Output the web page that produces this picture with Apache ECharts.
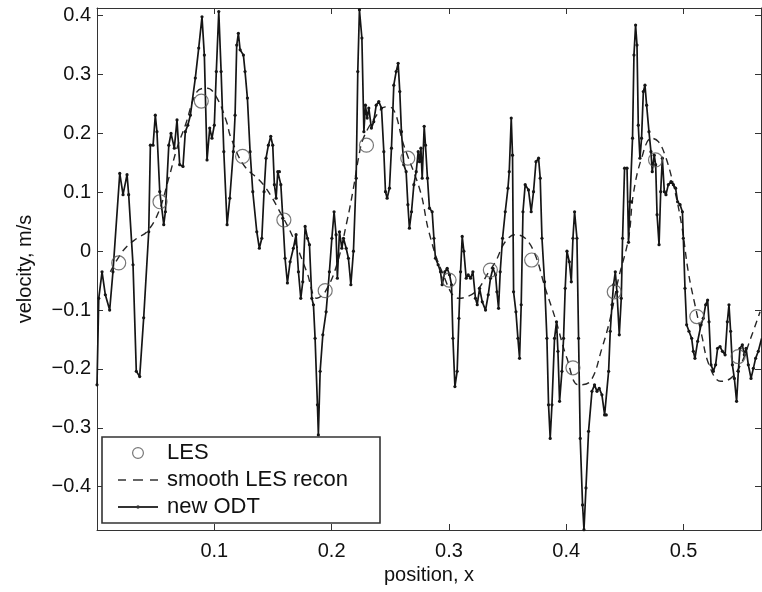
<!DOCTYPE html>
<html>
<head>
<meta charset="utf-8">
<script src="https://cdn.jsdelivr.net/npm/echarts@6/dist/echarts.min.js"></script>
<style>html,body{margin:0;padding:0;background:#fff}#c{width:762px;height:592px}</style>
</head>
<body>
<div id="c"></div>
<script>
// ---- data ----
const odtX = [0.0000,0.0015,0.0043,0.0071,0.0108,0.0136,0.0194,0.0222,0.0256,0.0270,0.0307,0.0335,0.0364,0.0398,0.0441,0.0455,0.0478,0.0497,0.0511,0.0535,0.0569,0.0583,0.0612,0.0631,0.0659,0.0682,0.0705,0.0733,0.0753,0.0774,0.0796,0.0838,0.0867,0.0895,0.0915,0.0938,0.0961,0.0980,0.1000,0.1017,0.1038,0.1058,0.1081,0.1109,0.1132,0.1162,0.1177,0.1191,0.1205,0.1220,0.1248,0.1262,0.1282,0.1305,0.1328,0.1362,0.1384,0.1405,0.1424,0.1441,0.1461,0.1481,0.1498,0.1512,0.1527,0.1541,0.1555,0.1567,0.1584,0.1603,0.1623,0.1646,0.1674,0.1697,0.1717,0.1737,0.1754,0.1774,0.1794,0.1811,0.1831,0.1845,0.1859,0.1879,0.1887,0.1902,0.1925,0.1953,0.1981,0.2002,0.2021,0.2038,0.2049,0.2067,0.2087,0.2101,0.2124,0.2143,0.2164,0.2186,0.2209,0.2223,0.2237,0.2258,0.2275,0.2288,0.2303,0.2317,0.2339,0.2359,0.2380,0.2402,0.2425,0.2445,0.2459,0.2473,0.2493,0.2510,0.2530,0.2550,0.2567,0.2581,0.2595,0.2615,0.2635,0.2650,0.2663,0.2681,0.2701,0.2721,0.2738,0.2749,0.2761,0.2772,0.2789,0.2800,0.2817,0.2834,0.2857,0.2872,0.2885,0.2908,0.2928,0.2942,0.2965,0.2985,0.3005,0.3022,0.3034,0.3051,0.3070,0.3085,0.3099,0.3113,0.3127,0.3147,0.3164,0.3184,0.3204,0.3226,0.3241,0.3261,0.3284,0.3312,0.3335,0.3354,0.3375,0.3397,0.3409,0.3423,0.3437,0.3457,0.3480,0.3503,0.3514,0.3531,0.3542,0.3551,0.3571,0.3588,0.3602,0.3616,0.3631,0.3650,0.3678,0.3701,0.3721,0.3742,0.3764,0.3778,0.3793,0.3815,0.3835,0.3849,0.3863,0.3878,0.3900,0.3917,0.3929,0.3943,0.3963,0.3977,0.3991,0.4006,0.4026,0.4043,0.4057,0.4071,0.4091,0.4105,0.4119,0.4139,0.4151,0.4168,0.4190,0.4219,0.4241,0.4262,0.4281,0.4304,0.4327,0.4341,0.4361,0.4375,0.4390,0.4403,0.4418,0.4432,0.4452,0.4469,0.4480,0.4497,0.4518,0.4531,0.4543,0.4557,0.4565,0.4577,0.4591,0.4603,0.4614,0.4628,0.4642,0.4657,0.4671,0.4685,0.4705,0.4722,0.4733,0.4750,0.4762,0.4774,0.4791,0.4805,0.4819,0.4836,0.4850,0.4870,0.4893,0.4913,0.4932,0.4949,0.4970,0.4990,0.4998,0.5012,0.5026,0.5046,0.5069,0.5083,0.5097,0.5120,0.5149,0.5168,0.5188,0.5205,0.5217,0.5234,0.5254,0.5273,0.5290,0.5311,0.5331,0.5354,0.5373,0.5387,0.5401,0.5416,0.5433,0.5452,0.5467,0.5481,0.5501,0.5518,0.5533,0.5552,0.5575,0.5595,0.5614,0.5637,0.5665];
const odtY = [-0.227,-0.080,-0.035,-0.074,-0.100,-0.035,0.132,0.096,0.130,0.096,-0.023,-0.204,-0.213,-0.113,0.033,0.180,0.180,0.231,0.203,0.101,0.045,0.067,0.180,0.200,0.175,0.223,0.147,0.144,0.203,0.214,0.231,0.294,0.345,0.398,0.333,0.155,0.209,0.192,0.214,0.305,0.407,0.305,0.169,0.045,0.090,0.169,0.231,0.350,0.370,0.342,0.333,0.305,0.260,0.169,0.101,0.033,0.005,0.022,0.101,0.158,0.180,0.195,0.180,0.113,0.090,0.135,0.135,0.113,0.056,-0.012,-0.054,-0.018,0.005,0.028,-0.035,-0.080,-0.052,0.042,0.022,0.011,-0.080,-0.091,-0.148,-0.261,-0.312,-0.204,-0.142,-0.103,-0.035,0.022,0.067,0.028,-0.046,0.033,0.005,0.022,0.005,-0.012,-0.057,0.000,0.124,0.305,0.410,0.362,0.203,0.248,0.226,0.243,0.209,0.220,0.248,0.254,0.243,0.169,0.101,0.090,0.107,0.175,0.282,0.305,0.319,0.271,0.203,0.147,0.135,0.079,0.039,0.067,0.113,0.135,0.169,0.152,0.175,0.124,0.212,0.180,0.124,0.073,0.067,0.022,-0.012,-0.023,-0.035,-0.057,-0.035,-0.029,-0.040,-0.057,-0.148,-0.230,-0.204,-0.114,-0.035,0.025,0.000,-0.046,-0.040,-0.046,-0.035,-0.080,-0.091,-0.063,-0.086,-0.100,-0.074,-0.046,-0.029,-0.040,-0.069,-0.097,-0.035,0.022,0.067,0.107,0.135,0.226,0.163,-0.069,-0.103,-0.148,-0.182,-0.091,0.067,0.113,0.104,0.067,0.101,0.152,0.158,0.124,0.022,-0.052,-0.148,-0.261,-0.318,-0.261,-0.148,-0.120,-0.170,-0.255,-0.204,-0.148,-0.063,0.000,-0.018,-0.052,0.022,0.067,0.022,-0.148,-0.318,-0.431,-0.473,-0.402,-0.306,-0.238,-0.227,-0.238,-0.233,-0.244,-0.278,-0.278,-0.204,-0.136,-0.091,-0.057,-0.035,-0.069,-0.142,-0.080,0.022,0.141,0.141,0.015,0.084,0.084,0.192,0.333,0.384,0.350,0.214,0.158,0.192,0.271,0.282,0.248,0.203,0.169,0.135,0.163,0.147,0.062,0.011,0.101,0.158,0.101,0.096,0.113,0.118,0.113,0.107,0.084,0.079,0.067,0.022,-0.063,-0.125,-0.136,-0.148,-0.170,-0.182,-0.153,-0.125,-0.114,-0.091,-0.083,-0.120,-0.193,-0.204,-0.193,-0.165,-0.162,-0.170,-0.176,-0.120,-0.091,-0.136,-0.193,-0.216,-0.255,-0.204,-0.165,-0.159,-0.176,-0.165,-0.193,-0.216,-0.199,-0.182,-0.170,-0.148];

const smoothX = [0.0114,0.0227,0.0341,0.0426,0.0526,0.0612,0.0682,0.0753,0.0853,0.0938,0.1023,0.1109,0.1134,0.1248,0.1418,0.1589,0.1674,0.1788,0.1874,0.1945,0.2044,0.2130,0.2186,0.2229,0.2271,0.2380,0.2460,0.2516,0.2615,0.2757,0.2829,0.2942,0.3085,0.3226,0.3340,0.3397,0.3480,0.3565,0.3650,0.3735,0.3821,0.3906,0.4006,0.4105,0.4205,0.4304,0.4375,0.4446,0.4531,0.4571,0.4642,0.4727,0.4785,0.4842,0.4913,0.4983,0.5040,0.5097,0.5154,0.5217,0.5316,0.5401,0.5486,0.5572,0.5652];
const smoothY = [-0.035,0.002,0.022,0.033,0.067,0.124,0.175,0.214,0.271,0.277,0.260,0.217,0.197,0.147,0.113,0.056,0.022,-0.035,-0.080,-0.069,-0.023,0.050,0.107,0.158,0.192,0.230,0.245,0.243,0.180,0.101,0.033,-0.035,-0.080,-0.069,-0.035,-0.018,0.016,0.028,0.022,-0.006,-0.063,-0.114,-0.182,-0.227,-0.221,-0.165,-0.114,-0.046,0.022,0.096,0.158,0.192,0.186,0.163,0.113,0.045,-0.035,-0.091,-0.142,-0.193,-0.221,-0.216,-0.193,-0.148,-0.103];

const lesX = [0.0185,0.0537,0.0889,0.1241,0.1593,0.1945,0.2297,0.2649,0.3001,0.3353,0.3705,0.4057,0.4409,0.4761,0.5113,0.5465];
const lesY = [-0.020,0.084,0.255,0.161,0.053,-0.067,0.180,0.158,-0.049,-0.032,-0.015,-0.198,-0.069,0.155,-0.111,-0.179];

const yTicks = [-0.4,-0.3,-0.2,-0.1,0,0.1,0.2,0.3,0.4];
const xTickStep = 0.1;
const xRange = [0, 0.566];
const yRange = [-0.4735, 0.413];

const seriesNames = ['LES', 'smooth LES recon', 'new ODT'];
const xName = 'position, x';
const yName = 'velocity, m/s';

// ---- chart ----
const FONT = '"Liberation Sans", Arial, Helvetica, sans-serif';
const zip = (a, b) => a.map((v, i) => [v, b[i]]);
const fmt = v => {
  if (Math.abs(v) < 1e-9) return '0';
  const s = Math.abs(v).toFixed(1);
  return v < 0 ? '\u2212' + s : s;
};
const AX = '#333';

const axisCommon = {
  axisLine: { show: true, onZero: false, lineStyle: { color: AX, width: 1 } },
  axisTick: { show: true, inside: true, length: 6, lineStyle: { color: AX, width: 1 } },
  splitLine: { show: false }
};

// legend icons (paths spanning 44x14)
const bound = 'M0,0 L0.001,0 L0,0.001 Z M44,14 L43.999,14 L44,13.999 Z ';
const iconCircle = 'path://' + bound + 'M26,7 A6,6 0 1 1 14,7 A6,6 0 1 1 26,7 Z M24.8,7 A4.8,4.8 0 1 0 15.2,7 A4.8,4.8 0 1 0 24.8,7 Z';
const iconDash = 'path://' + bound + 'M0,6.3 L8,6.3 L8,7.7 L0,7.7 Z M15,6.3 L25,6.3 L25,7.7 L15,7.7 Z M32,6.3 L40,6.3 L40,7.7 L32,7.7 Z';
const iconSolid = 'path://' + bound + 'M0,6.1 L40,6.1 L40,7.9 L0,7.9 Z M21.7,7 A1.7,1.7 0 1 1 18.3,7 A1.7,1.7 0 1 1 21.7,7 Z';

const chart = echarts.init(document.getElementById('c'));
chart.setOption({
  animation: false,
  backgroundColor: '#fff',
  textStyle: { fontFamily: FONT, color: '#111' },
  grid: { left: 97, top: 8, right: 1, bottom: 62, containLabel: false },
  xAxis: [
    Object.assign({}, axisCommon, {
      type: 'value', position: 'bottom', min: xRange[0], max: xRange[1], interval: xTickStep,
      name: xName, nameLocation: 'middle', nameGap: 33,
      nameTextStyle: { fontSize: 20, color: '#111', fontFamily: FONT },
      axisLabel: { show: true, margin: 11, fontSize: 20, color: '#111', fontFamily: FONT,
        showMinLabel: false, showMaxLabel: false, formatter: fmt }
    }),
    Object.assign({}, axisCommon, {
      type: 'value', position: 'top', min: xRange[0], max: xRange[1], interval: xTickStep,
      axisLabel: { show: false }
    })
  ],
  yAxis: [
    Object.assign({}, axisCommon, {
      type: 'value', position: 'left', min: yRange[0], max: yRange[1],
      name: yName, nameLocation: 'middle', nameGap: 62,
      nameTextStyle: { fontSize: 20, color: '#111', fontFamily: FONT },
      axisTick: Object.assign({}, axisCommon.axisTick, { customValues: yTicks }),
      axisLabel: { show: true, margin: 6, fontSize: 20, color: '#111', fontFamily: FONT,
        customValues: yTicks, formatter: fmt }
    }),
    Object.assign({}, axisCommon, {
      type: 'value', position: 'right', min: yRange[0], max: yRange[1],
      axisTick: Object.assign({}, axisCommon.axisTick, { customValues: yTicks }),
      axisLabel: { show: false, customValues: yTicks }
    })
  ],
  legend: {
    orient: 'vertical', left: 118, top: 442, padding: 0,
    itemWidth: 44, itemHeight: 14, itemGap: 5,
    selectedMode: false, z: 10,
    textStyle: { fontSize: 22, lineHeight: 20, color: '#111', fontFamily: FONT },
    data: [
      { name: seriesNames[0], icon: iconCircle, itemStyle: { color: '#555', borderWidth: 0 } },
      { name: seriesNames[1], icon: iconDash, itemStyle: { color: '#333', borderWidth: 0 } },
      { name: seriesNames[2], icon: iconSolid, itemStyle: { color: '#333', borderWidth: 0 } }
    ]
  },
  graphic: [{
    type: 'rect', z: 5,
    shape: { x: 102, y: 437, width: 278, height: 86 },
    style: { fill: '#fff', stroke: '#333', lineWidth: 1.6 }
  }],
  series: [
    {
      name: seriesNames[2], type: 'line', xAxisIndex: 0, yAxisIndex: 0,
      data: zip(odtX, odtY), showSymbol: true, showAllSymbol: true,
      symbol: 'circle', symbolSize: 3.2, z: 3,
      lineStyle: { color: '#151515', width: 1.7 },
      itemStyle: { color: '#151515' }
    },
    {
      name: seriesNames[1], type: 'line', xAxisIndex: 0, yAxisIndex: 0,
      data: zip(smoothX, smoothY), symbol: 'none', smooth: 0.4, z: 2,
      lineStyle: { color: '#262626', width: 1.4, type: [7, 5] }
    },
    {
      name: seriesNames[0], type: 'scatter', xAxisIndex: 0, yAxisIndex: 0,
      data: zip(lesX, lesY), symbol: 'circle', symbolSize: 14, z: 4,
      itemStyle: { color: 'rgba(0,0,0,0)', borderColor: '#555', borderWidth: 1.2 }
    }
  ]
});
</script>
</body>
</html>
